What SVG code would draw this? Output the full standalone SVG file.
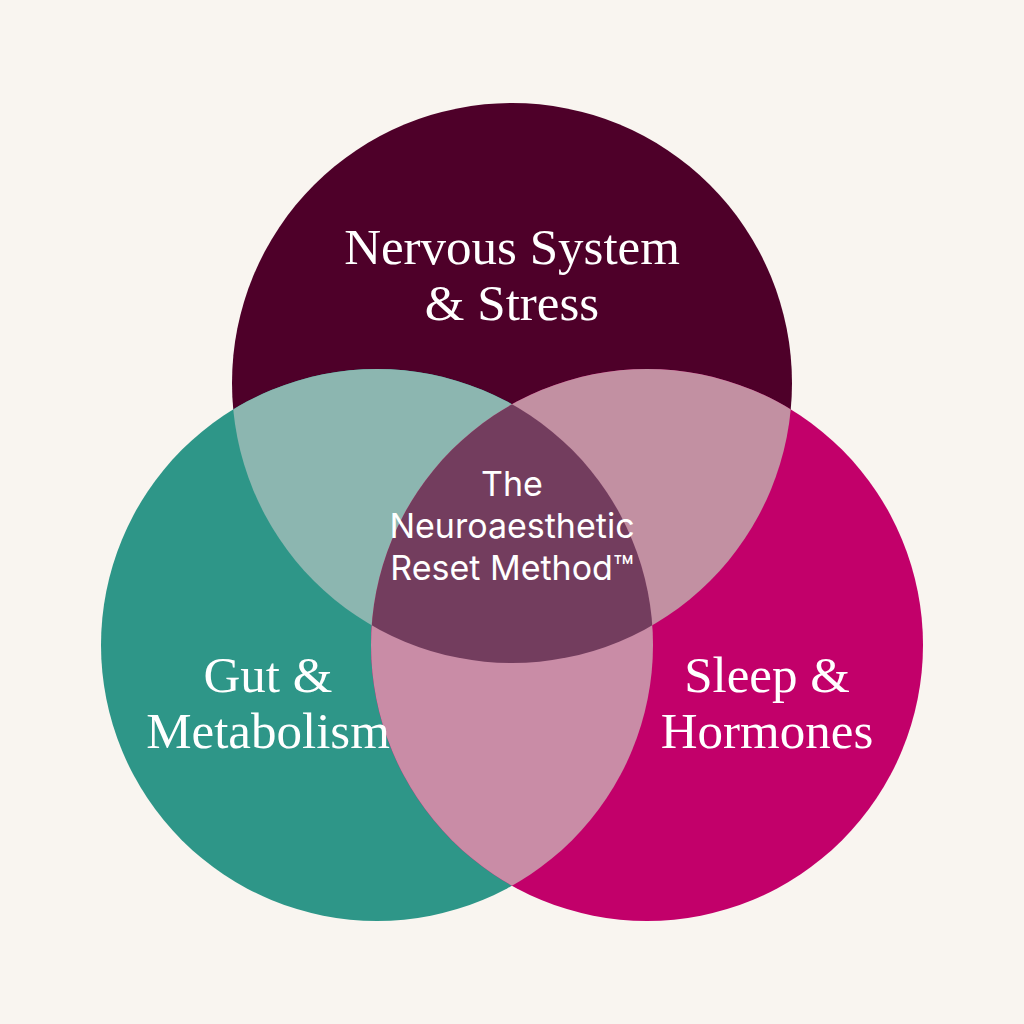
<svg xmlns="http://www.w3.org/2000/svg" width="1024" height="1024" viewBox="0 0 1024 1024">
<style>
.s{font-family:"Liberation Serif","DejaVu Serif",serif;font-size:51px;fill:#fff;text-anchor:middle}
.c{font-family:"Inter","Liberation Sans",sans-serif;font-size:34px;fill:#fff;text-anchor:middle}
</style>
<defs>
<clipPath id="cT"><circle cx="512" cy="383" r="280"/></clipPath>
<clipPath id="cL"><circle cx="377" cy="645" r="276"/></clipPath>
<clipPath id="cR"><circle cx="647" cy="645" r="276"/></clipPath>
</defs>
<rect width="1024" height="1024" fill="#f9f5f0"/>
<g id="top"><circle cx="512" cy="383" r="280" fill="#4e0029"/></g>
<g id="left"><circle cx="377" cy="645" r="276" fill="#2e9688"/></g>
<g id="right"><circle cx="647" cy="645" r="276" fill="#c2006a"/></g>
<g id="overlaps">
<g clip-path="url(#cT)"><circle cx="377" cy="645" r="276" fill="#8cb6b0"/></g>
<g clip-path="url(#cT)"><circle cx="647" cy="645" r="276" fill="#c290a2"/></g>
<g clip-path="url(#cL)"><circle cx="647" cy="645" r="276" fill="#c98ca6"/></g>
<g clip-path="url(#cT)"><g clip-path="url(#cL)"><circle cx="647" cy="645" r="276" fill="#733d5e"/></g></g>
</g>
<g id="labels">
<text class="s" x="512" y="264">Nervous System</text>
<text class="s" x="512" y="320">&amp; Stress</text>
<text class="s" x="268" y="692">Gut &amp;</text>
<text class="s" x="268" y="748">Metabolism</text>
<text class="s" x="767" y="692">Sleep &amp;</text>
<text class="s" x="767" y="748">Hormones</text>
<text class="c" x="512" y="496">The</text>
<text class="c" x="512" y="538">Neuroaesthetic</text>
<text class="c" x="512" y="580">Reset Method™</text>
</g>
</svg>
